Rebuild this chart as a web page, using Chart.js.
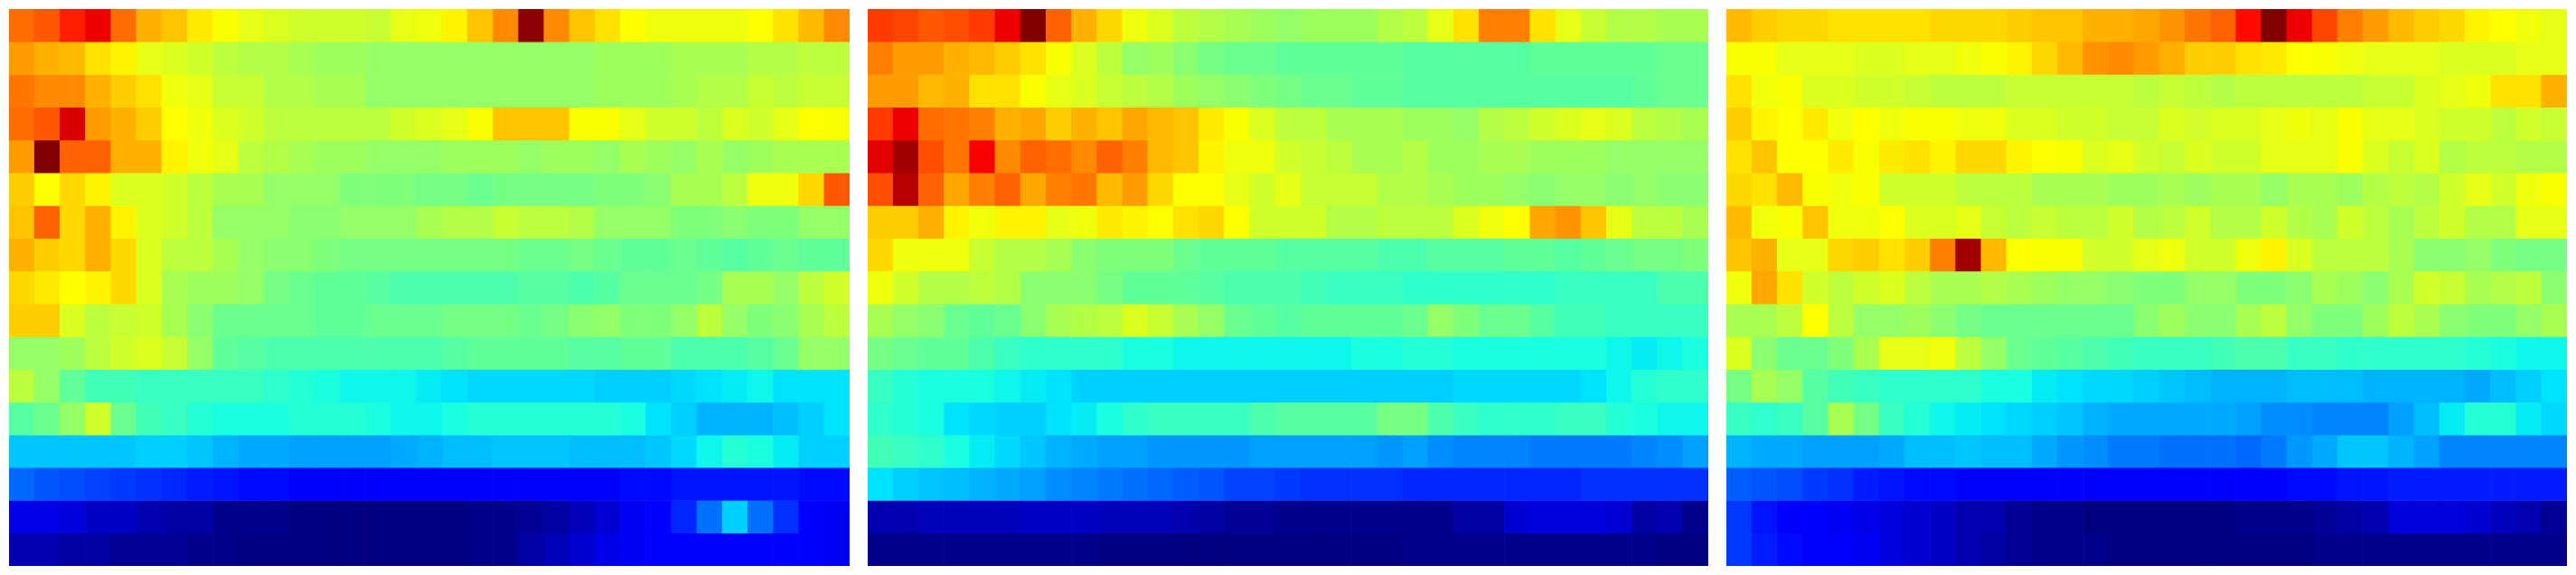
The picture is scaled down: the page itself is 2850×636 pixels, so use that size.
<!DOCTYPE html>
<html lang="en">
<head>
    <meta charset="UTF-8">
    <title>Heatmaps</title>
    <script src="https://cdn.jsdelivr.net/npm/chart.js@4"></script>
    <style>
        html, body { margin: 0; padding: 0; background: #fff; }
        body { width: 2850px; height: 636px; position: relative; overflow: hidden; }
        canvas { position: absolute; top: 10px; }
        #panelA { left: 10px; }
        #panelB { left: 960px; }
        #panelC { left: 1910px; }
    </style>
</head>
<body>
    <canvas id="panelA" width="930" height="616"></canvas>
    <canvas id="panelB" width="930" height="616"></canvas>
    <canvas id="panelC" width="930" height="616"></canvas>

    <script>
        // heat levels, 0 = navy end, 100 = dark red end
        var columns = ['0','1','2','3','4','5','6','7','8','9','10','11','12','13','14','15','16','17','18','19','20','21','22','23','24','25','26','27','28','29','30','31','32'];

        var panelA = [
            [77,79,85,90,77,70,68,64,61,59,58,57,57,57,56,59,60,63,68,74,99,74,68,65,62,60,60,60,60,62,65,69,74],
            [72,70,69,65,63,59,58,57,55,54,54,53,52,52,51,51,51,51,51,51,51,51,51,52,52,52,53,53,53,54,54,55,55],
            [76,74,74,70,67,65,60,59,56,56,54,54,53,53,51,51,51,51,51,51,51,51,51,52,52,52,53,54,54,56,55,56,56],
            [77,79,92,72,70,67,62,60,58,57,55,55,55,55,55,57,58,59,61,68,68,68,61,61,59,57,57,55,58,57,59,62,61],
            [72,100,78,78,70,70,63,60,59,55,54,53,52,52,51,51,51,52,52,52,51,52,52,51,53,52,51,53,51,52,53,53,53],
            [67,62,66,63,58,58,57,55,53,53,51,51,51,49,49,49,48,48,47,48,48,48,48,49,49,50,53,53,55,60,60,66,79],
            [68,78,66,70,63,58,57,55,51,51,51,50,50,51,51,51,53,54,54,56,55,55,54,51,51,51,49,49,50,49,49,51,51],
            [70,67,66,70,66,58,55,55,53,51,50,50,49,48,48,48,48,48,48,48,47,47,48,47,46,46,47,46,45,46,47,46,46],
            [66,64,62,63,66,58,53,52,52,51,48,47,46,46,45,44,44,44,44,44,45,45,44,45,47,47,47,48,53,53,51,55,57],
            [67,67,58,55,56,57,53,50,47,47,47,47,46,46,47,47,47,48,48,48,47,48,50,51,49,49,51,55,51,49,50,53,55],
            [51,51,52,55,57,58,56,51,46,45,44,44,44,44,44,44,44,45,46,46,46,46,45,45,46,46,44,44,44,45,47,51,51],
            [55,51,46,43,43,42,42,42,42,42,41,40,39,38,38,38,37,36,35,35,35,35,35,34,34,34,35,36,37,38,36,36,36],
            [45,47,51,57,47,43,42,40,39,39,39,40,40,40,39,38,38,39,40,40,40,40,40,40,39,36,34,31,31,31,32,34,36],
            [33,33,33,33,33,34,34,33,31,30,30,29,29,29,29,30,31,32,32,33,33,33,32,32,32,33,35,38,40,39,37,34,34],
            [23,21,20,19,18,17,16,15,14,13,13,12,12,12,12,12,12,12,12,12,12,12,12,12,13,13,14,14,14,14,14,13,13],
            [9,9,8,6,6,4,3,3,1,1,1,0,0,0,0,0,0,0,1,1,2,3,5,7,10,11,16,24,34,24,17,11,10],
            [4,4,3,3,2,2,2,1,1,0,0,0,0,0,0,0,0,0,1,1,3,5,7,9,10,11,12,12,12,12,12,12,10]
        ];

        var panelB = [
            [82,81,79,80,82,90,100,78,70,66,60,58,55,54,53,52,51,52,52,52,54,55,59,65,75,75,65,59,56,54,54,53,53],
            [75,72,72,70,69,67,65,61,58,55,51,52,50,48,47,47,46,46,46,46,46,45,45,45,45,45,46,46,46,46,46,47,47],
            [72,72,69,70,65,65,61,59,58,56,55,54,52,51,50,49,48,47,47,46,46,45,45,45,45,45,45,45,45,45,46,47,47],
            [82,90,77,76,75,70,71,67,70,68,71,69,68,64,61,58,55,55,53,53,53,52,52,51,54,55,57,58,59,58,55,54,53],
            [91,97,80,76,89,74,78,77,74,78,75,69,68,63,60,60,57,56,55,53,53,54,52,52,53,53,52,52,52,51,51,51,51],
            [80,95,78,71,75,78,71,75,76,69,72,66,62,62,59,57,59,56,56,56,54,54,53,52,52,51,50,51,51,50,51,50,50],
            [67,67,70,63,60,63,63,59,60,64,63,62,65,66,62,57,57,57,54,54,55,55,55,58,60,62,71,73,68,59,55,55,53],
            [66,60,60,60,56,54,54,53,50,49,49,49,47,46,46,46,45,45,45,45,44,44,45,45,45,46,46,45,46,47,48,48,49],
            [60,57,54,54,55,54,50,50,50,48,46,46,46,45,44,44,44,43,42,42,42,41,41,41,41,41,41,42,42,42,42,44,44],
            [53,51,50,47,46,47,50,53,54,55,58,56,53,51,47,46,45,46,46,46,46,47,51,49,47,47,45,43,43,42,42,42,42],
            [48,47,46,46,44,42,41,41,41,41,39,39,38,38,38,38,38,38,38,39,39,40,40,39,39,39,39,39,39,38,37,38,39],
            [42,40,39,39,39,38,37,36,34,34,34,34,34,34,34,34,34,34,34,34,34,34,34,35,35,35,35,35,36,38,40,41,41],
            [41,40,39,36,35,34,34,36,37,39,41,42,42,42,42,44,45,45,45,45,48,48,44,42,41,41,41,42,42,40,39,38,38],
            [43,42,41,39,37,35,33,31,30,29,29,28,28,28,28,29,29,29,29,29,28,29,27,26,26,26,25,25,25,25,26,27,29],
            [36,34,33,32,31,30,29,27,26,25,24,23,22,21,19,19,18,17,17,17,17,16,16,16,16,16,16,16,17,17,17,17,17],
            [4,4,5,5,5,5,6,6,6,5,5,5,4,3,2,2,1,1,1,1,1,1,1,3,3,7,8,8,8,7,3,4,1],
            [1,1,1,1,1,1,1,1,1,0,0,0,0,0,0,0,0,0,0,0,0,1,1,1,1,1,1,1,1,1,1,0,0]
        ];

        var panelC = [
            [69,67,66,66,65,65,65,65,66,66,66,67,68,68,70,70,71,73,76,78,87,100,90,81,75,72,69,67,66,63,62,60,59],
            [61,61,59,59,59,58,58,59,59,60,61,63,66,69,73,74,72,70,67,67,65,64,62,61,60,59,59,59,58,58,58,59,59],
            [65,60,61,58,58,57,57,56,55,55,55,56,56,56,56,56,55,56,55,54,55,55,55,55,55,56,56,58,59,60,65,65,70],
            [67,63,62,64,60,62,60,61,61,60,60,58,58,57,57,56,56,58,57,58,58,59,60,59,61,59,59,58,57,57,55,57,56],
            [65,68,62,62,64,61,64,65,63,66,66,63,62,61,58,59,57,56,58,57,57,59,59,59,61,58,56,58,54,55,55,54,54],
            [66,65,69,61,60,61,57,57,57,55,55,55,53,53,53,52,52,53,52,53,53,51,53,53,52,54,55,54,57,59,57,60,61],
            [69,60,61,68,60,60,62,58,58,59,56,55,56,55,55,57,54,55,57,54,54,57,54,53,57,55,53,55,57,54,54,59,59],
            [68,70,59,59,66,67,65,67,75,97,69,62,61,61,57,57,59,60,57,57,60,63,58,55,55,55,53,50,50,51,49,48,48],
            [60,71,65,57,55,57,58,55,53,53,54,53,52,51,51,50,49,49,51,51,49,49,50,53,52,50,53,57,56,53,54,55,50],
            [53,53,55,62,55,51,51,52,50,48,47,47,47,47,47,47,50,52,50,50,53,55,51,49,49,52,55,53,50,49,49,51,53],
            [58,50,47,47,49,53,59,59,60,55,51,47,46,45,44,43,42,42,42,43,44,44,42,42,41,41,41,41,41,40,39,38,38],
            [48,53,51,45,43,42,41,41,41,41,39,39,37,36,35,35,34,33,32,31,31,31,32,32,32,31,31,31,31,30,32,34,36],
            [42,41,42,45,53,48,42,40,38,37,36,35,34,33,31,30,30,30,30,30,29,27,27,26,26,26,29,32,37,40,40,37,35],
            [31,30,30,29,29,29,30,32,32,33,32,32,30,28,27,25,25,24,24,24,23,25,28,30,33,33,31,29,26,26,26,26,26],
            [22,21,20,18,17,15,14,13,13,12,12,12,12,12,12,12,12,12,12,12,12,12,13,13,14,14,15,15,15,15,15,15,15],
            [18,14,12,12,10,9,8,7,6,4,4,2,1,1,0,0,0,0,0,0,1,1,1,2,3,4,8,8,8,7,5,4,2],
            [18,15,13,12,11,10,8,7,6,4,3,2,1,1,1,0,0,0,0,0,0,0,0,1,1,1,1,1,1,1,1,1,1]
        ];

        // Straight line between two points, flat outside them
        function ramp(v, a, fa, b, fb) {
            if (v <= a) return fa;
            if (v >= b) return fb;
            return fa + (fb - fa) * (v - a) / (b - a);
        }

        // jet style colour ramp for the 0-100 levels above
        function heatColor(v) {
            var r = v < 80 ? ramp(v, 36.5, 0, 61.5, 255) : ramp(v, 88.5, 255, 100, 128);
            var g = v < 50 ? ramp(v, 12, 0, 39, 255) : ramp(v, 62, 255, 88, 0);
            var b = v < 20 ? ramp(v, 0, 128, 11, 255) : ramp(v, 36, 255, 61, 0);
            return 'rgb(' + Math.round(r) + ',' + Math.round(g) + ',' + Math.round(b) + ')';
        }

        function drawPanel(id, rows) {
            // one floating bar dataset per row, coloured cell by cell
            var datasets = rows.map(function (row, r) {
                return {
                    label: 'row ' + r,
                    data: row.map(function () { return [r, r + 1]; }),
                    backgroundColor: row.map(heatColor),
                    borderWidth: 0,
                    barPercentage: 1,
                    categoryPercentage: 1,
                    grouped: false
                };
            });

            new Chart(document.getElementById(id).getContext('2d'), {
                type: 'bar',
                data: { labels: columns, datasets: datasets },
                options: {
                    responsive: false,
                    animation: false,
                    layout: { padding: 0 },
                    plugins: { legend: { display: false }, tooltip: { enabled: false } },
                    scales: {
                        x: { display: false },
                        y: { display: false, min: 0, max: rows.length, reverse: true }
                    }
                }
            });
        }

        drawPanel('panelA', panelA);
        drawPanel('panelB', panelB);
        drawPanel('panelC', panelC);
    </script>
</body>
</html>
